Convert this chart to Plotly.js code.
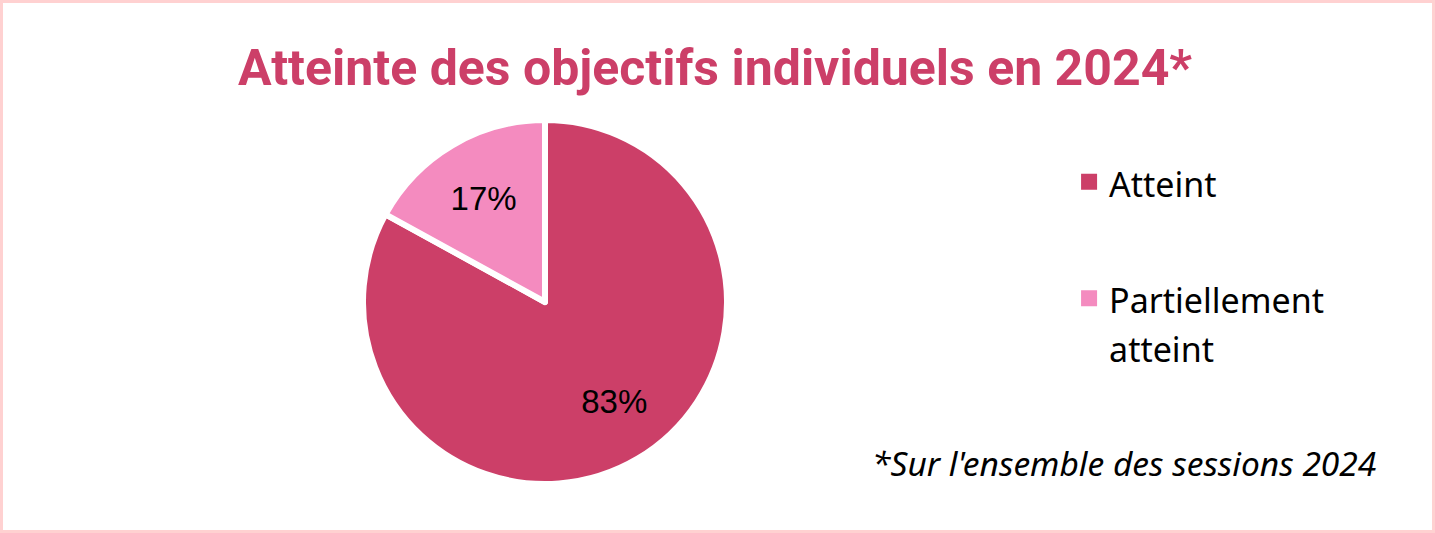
<!DOCTYPE html>
<html>
<head>
<meta charset="utf-8">
<script src="https://cdn.plot.ly/plotly-3.0.1.min.js"></script>
<style>
html,body{margin:0;padding:0;background:#fff;}
#chart{width:1435px;height:533px;}
</style>
</head>
<body>
<div id="chart"></div>
<script>
const categories = ["Atteint", "Partiellement<br>atteint"];
const values = [83, 17];
const colors = ["#CC3F68", "#F48BBF"];
const titleText = "Atteinte des objectifs individuels en 2024*";
const footnote = "*Sur l'ensemble des sessions 2024";

const W = 1435, H = 533;
const cx = 545, cy = 302, r = 182;
const NB = "\u00A0";

const pie = {
  type: "pie",
  labels: categories,
  values: values,
  sort: false,
  direction: "clockwise",
  rotation: 0,
  marker: {colors: colors, line: {color: "#ffffff", width: 6}},
  texttemplate: [NB + "<br>" + NB + NB + NB + NB + NB + "%{percent}", "%{percent}"],
  textposition: "inside",
  insidetextorientation: "horizontal",
  textfont: {family: "Liberation Sans, Arial, sans-serif", size: 33, color: "#000000"},
  hoverinfo: "label+percent",
  showlegend: false,
  domain: {x: [(cx - r) / W, (cx + r) / W], y: [(H - cy - r) / H, (H - cy + r) / H]}
};

// legend entries (one per category, same colours as the slices)
const legendTraces = categories.map((c, i) => ({
  type: "scatter", mode: "markers",
  x: [null], y: [null],
  name: c.split("<br>").map(s => '<span style="font-size:34px">' + s + '</span>').join("<br>"),
  legendgroup: "g" + i,
  marker: {symbol: "square", size: 16, color: colors[i]},
  hoverinfo: "skip"
}));

const layout = {
  width: W, height: H,
  margin: {l: 0, r: 0, t: 0, b: 0},
  paper_bgcolor: "#ffffff",
  plot_bgcolor: "rgba(0,0,0,0)",
  xaxis: {visible: false, domain: [0.9, 0.91]},
  yaxis: {visible: false, domain: [0.9, 0.91]},
  title: {
    text: titleText,
    font: {family: "Roboto, Arial, sans-serif", size: 50, color: "#CC3F68", weight: "bold"},
    x: 0.4983, xanchor: "center", y: 0.873, yanchor: "middle"
  },
  showlegend: true,
  legend: {
    x: 0.745, xanchor: "left", y: 0.7175, yanchor: "top",
    font: {family: "Noto Sans, sans-serif", size: 38, color: "#000000"},
    valign: "top",
    traceorder: "grouped",
    tracegroupgap: 64,
    itemclick: false, itemdoubleclick: false,
    bgcolor: "rgba(0,0,0,0)"
  },
  annotations: [{
    text: "<i>" + footnote + "</i>",
    xref: "paper", yref: "paper", x: 0.9605, y: (H - 463) / H,
    xanchor: "right", yanchor: "middle", showarrow: false,
    font: {family: "Noto Sans, sans-serif", size: 33.5, color: "#000000"}
  }],
  shapes: [{
    type: "rect", xref: "paper", yref: "paper", x0: 0, x1: 1, y0: 0, y1: 1,
    line: {color: "#FFD1D1", width: 6}, fillcolor: "rgba(0,0,0,0)"
  }]
};

Plotly.newPlot("chart", [pie].concat(legendTraces), layout, {displayModeBar: false, staticPlot: true});
</script>
</body>
</html>
